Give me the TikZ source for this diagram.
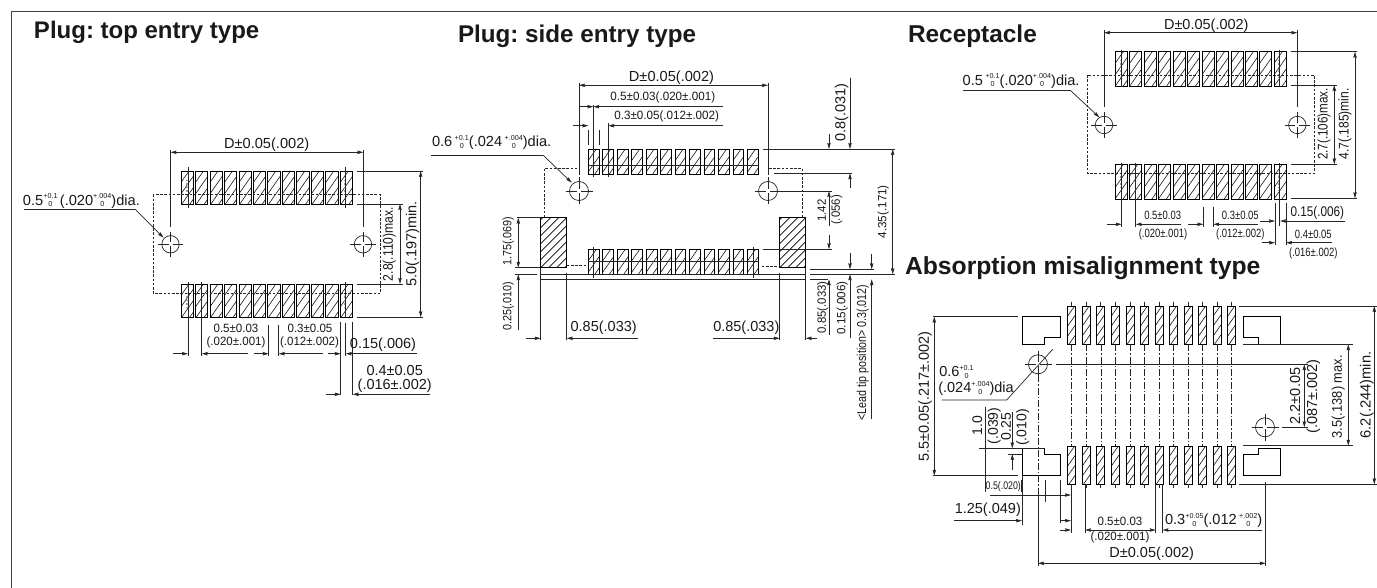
\documentclass[tikz,border=0pt]{standalone}
\usepackage{fontspec}
\setmainfont{Liberation Sans}
\usetikzlibrary{arrows.meta}
\frenchspacing
\newcount\lblc
\newsavebox\tolbox
\newcommand\tolf{\fontsize{7.2}{7.2}\selectfont}
\newcommand\tol[2]{\sbox\tolbox{\tolf#1}\makebox[\wd\tolbox][l]{\rlap{\raisebox{.42em}{\usebox\tolbox}}\makebox[\wd\tolbox][c]{\raisebox{-.12em}{\tolf#2}}}}
% \lbl[options]{x}{y}{size}{xscale}{text}
\newcommand\lbl[6][]{\global\advance\lblc by 1 \node[txt,#1] (t\the\lblc) at (#2,#3) {\fontsize{#4}{#4}\selectfont\scalebox{#5}[1]{#6}};}
\newcommand\rlbl[5]{\lbl[rotate=90]{#1}{#2}{#3}{#4}{#5}}
\newcommand\llbl[5]{\lbl[anchor=west]{#1}{#2}{#3}{#4}{#5}}
\newcommand\ttl[4]{\global\advance\lblc by 1 \node[txt,anchor=west] (t\the\lblc) at (#1,#2) {\fontsize{#3}{#3}\selectfont\bfseries #4};}
\newcommand\pads[6]{%
 \foreach \i in {0,...,11}{
  \pgfmathsetmacro\xa{#1+\i*#5}\pgfmathsetmacro\xb{\xa+#4}
  \begin{scope}
   \clip (\xa,#2) rectangle (\xb,#3);
   \pgfmathsetmacro\hh{#3-#2}
   \foreach \k in {0,...,14}{
     \pgfmathsetmacro\xs{\xa-\hh*0.7+\k*#6}
     \draw[hatch] (\xs,#3) -- ++(\hh*0.7,-\hh);
   }
  \end{scope}
  \draw[pad] (\xa,#2) rectangle (\xb,#3);
 }}
\newcommand\block[4]{%
 \begin{scope}
  \clip (#1,#3) rectangle (#2,#4);
  \foreach \k in {-7,...,5}{
   \draw[hatch,line width=.7pt,draw=black] (#1+\k*8,#4) -- ++(50,-50);
  }
 \end{scope}
 \draw[pad,line width=1.3pt] (#1,#3) rectangle (#2,#4);}
\newcommand\hole[3]{%
 \draw[thin1] (#1,#2) circle (#3);
 \draw[thin1] (#1-#3-4,#2) -- (#1-2,#2) (#1+2,#2) -- (#1+#3+4,#2);
 \draw[thin1] (#1,#2-#3-4) -- (#1,#2-2) (#1,#2+2) -- (#1,#2+#3+4);}
\tikzset{
 tip/.tip={Stealth[length=6pt,width=3.4pt,inset=.8pt]},
 txt/.style={inner sep=0pt,outer sep=0pt,text=black!90},
 thin1/.style={line width=.7pt,draw=black!85},
 dim/.style={line width=.7pt,draw=black!85,-tip},
 dimb/.style={line width=.7pt,draw=black!85,tip-tip},
 hatch/.style={line width=.6pt,draw=black!90},
 pad/.style={line width=.8pt,draw=black},
 dash1/.style={line width=.7pt,draw=black!85,dash pattern=on 2.6pt off 1.6pt},
 cline/.style={line width=.6pt,draw=black!85,dash pattern=on 7pt off 2pt on 1.5pt off 2pt},
 shapeb/.style={line width=.8pt,draw=black},
 stip/.style={line width=2pt,draw=black!40,dash pattern=on 1.5pt off 2pt},
}
\begin{document}
\begin{tikzpicture}[x=1pt,y=-1pt]
\useasboundingbox (0,0) rectangle (1377,588);
\fill[white] (0,0) rectangle (1377,588);
% frame
\draw[line width=.9pt,draw=black!75] (11.6,588) -- (11.6,11) -- (1377,11);
% titles
\ttl{34}{32}{24}{Plug: top entry type}
\ttl{458}{36}{24.2}{Plug: side entry type}
\ttl{908}{36}{24.4}{Receptacle}
\ttl{905}{268}{24.7}{Absorption misalignment type}

%%%%%%%% TOP ENTRY
\pads{181}{171}{204.7}{12.3}{14.48}{8}
\pads{181}{284}{317.3}{12.3}{14.48}{8}
\draw[stip] (187,180) -- (187,196) (345,180) -- (345,196) (187,293) -- (187,309) (345,293) -- (345,309);
\draw[dash1] (153.3,194.7) rectangle (380.3,293.7);
\hole{170.5}{244.3}{8.7}
\hole{363}{244.3}{8.7}
\draw[thin1] (170.5,150) -- (170.5,227) (363.3,150) -- (363.3,227);
\draw[dimb] (170.5,152.3) -- (363.3,152.3);
\lbl{266.7}{145}{14.6}{1}{D±0.05(.002)}
\draw[thin1] (188,166.7) -- (188,208) (345.7,166.7) -- (345.7,208);
\draw[thin1] (188,282.3) -- (188,355.7) (201.7,282.3) -- (201.7,355.7) (345.7,323) -- (345.7,355.7) (345.7,282.3) -- (345.7,317);
\draw[thin1] (340.7,321.7) -- (340.7,395) (352.7,321.7) -- (352.7,395);
\draw[thin1] (268.7,325) -- (268.7,355.7) (278.7,325) -- (278.7,355.7);
\draw[thin1] (357,171) -- (422.7,171) (357,204) -- (403,204) (357,284) -- (403,284) (357,317.3) -- (422.7,317.3);
\draw[dimb] (400,204) -- (400,284);
\draw[dimb] (420.7,171) -- (420.7,317.3);
\rlbl{389.3}{244}{14}{.87}{2.8(.110)max.}
\rlbl{412.7}{244}{14.5}{1}{5.0(.197)min.}
\draw[dim] (173,353.7) -- (188,353.7);
\draw[dim] (248,353.7) -- (201.7,353.7);
\draw[dim] (254,353.7) -- (268.7,353.7);
\draw[dim] (322.7,353.7) -- (278.7,353.7);
\draw[dim] (328,353.7) -- (340.7,353.7);
\draw[dim] (417,353.7) -- (345.7,353.7);
\draw[dim] (326,394.3) -- (340.7,394.3);
\draw[dim] (430,394.3) -- (352.7,394.3);
\lbl{236}{328}{12}{.96}{0.5±0.03}
\lbl{236}{342}{12}{.96}{(.020±.001)}
\lbl{310}{328}{12}{.96}{0.3±0.05}
\lbl{309.5}{342}{12}{.96}{(.012±.002)}
\lbl{383}{344.3}{14.5}{1}{0.15(.006)}
\lbl{394.7}{371}{14.5}{1}{0.4±0.05}
\lbl{394.7}{385.3}{14.5}{1}{(.016±.002)}
\llbl{23}{201}{14.6}{1}{0.5\tol{+0.1}{0}\,(.020\tol{+.004}{0})dia.}
\draw[thin1] (24,209) -- (135,209);
\draw[dim] (135,209) -- (163.5,237.7);

%%%%%%%% SIDE ENTRY
\pads{588.3}{149}{174.3}{10.7}{14.48}{8}
\pads{588.3}{249.3}{274.3}{10.7}{14.48}{8}
\draw[dash1] (544.3,217.7) -- (544.3,168.3) -- (578,168.3);
\draw[dash1] (769,168.3) -- (802.3,168.3) -- (802.3,217.7);
\draw[dash1] (566.7,265.7) -- (585.7,265.7);
\draw[dash1] (761.7,266.7) -- (779.7,266.7);
\draw[thin1] (588,165.7) -- (759,165.7) (588,261) -- (759,261);
\block{540.7}{566.7}{217.7}{267.7}
\block{779.7}{805.7}{217.7}{267.7}
\hole{579}{191}{9.5}
\hole{768}{191}{9.5}
\draw[thin1] (579,83) -- (579,175) (768,83) -- (768,175);
\draw[dimb] (579,85.3) -- (768,85.3);
\lbl{671.5}{78}{14.6}{1}{D±0.05(.002)}
\draw[thin1] (588.3,130) -- (588.3,145) (599,130) -- (599,145) (593.3,105) -- (593.3,176.7) (608.3,123) -- (608.3,176.7);
\draw[thin1] (593.3,246.7) -- (593.3,278) (753.3,246.7) -- (753.3,278);
\draw[dim] (579,106.7) -- (593.3,106.7);
\draw[dim] (722.7,106.7) -- (593.3,106.7);
\draw[dim] (573.3,125.7) -- (588.3,125.7);
\draw[dim] (722.7,125.7) -- (608.3,125.7);
\lbl{662.8}{97.3}{12}{.97}{0.5±0.03(.020±.001)}
\lbl{666.7}{116.3}{12}{.97}{0.3±0.05(.012±.002)}
\llbl{432}{142.3}{14.6}{1}{0.6\,\tol{+0.1}{0}(.024\,\tol{+.004}{0})dia.}
\draw[thin1] (431,155.3) -- (543.3,155.3);
\draw[dim] (543.3,155.3) -- (571.7,182.7);
\draw[thin1] (763,149) -- (895,149) (774,173.3) -- (852.3,173.3) (778,191) -- (831.7,191) (762.7,249.3) -- (831.7,249.3);
\draw[thin1] (810,274.3) -- (895,274.3) (810,269.3) -- (874,269.3) (810,279.3) -- (828,279.3);
\draw[dim] (829,134.3) -- (829,149);
\draw[dim] (829,226) -- (829,191);
\draw[dim] (829,235) -- (829,249.3);
\draw[dim] (829,335) -- (829,279.3);
\draw[dim] (850,77.7) -- (850,149);
\draw[dim] (850,188) -- (850,173.3);
\draw[dim] (850,253) -- (850,269.3);
\draw[dim] (850,338) -- (850,274.3);
\draw[dim] (871.7,254) -- (871.7,269.3);
\draw[dim] (871.7,419) -- (871.7,279.3);
\draw[dimb] (892.7,149) -- (892.7,274.3);
\rlbl{841.7}{112.5}{14.5}{1}{0.8(.031)}
\rlbl{821.7}{210.7}{12}{.95}{1.42}
\rlbl{836.7}{210}{12}{.95}{(.056)}
\rlbl{822.7}{307.5}{12}{.95}{0.85(.033)}
\rlbl{842.3}{308}{12}{.97}{0.15(.006)}
\rlbl{862.7}{352.5}{13}{.82}{<Lead tip position> 0.3(.012)}
\rlbl{883.3}{211.7}{12}{.97}{4.35(.171)}
\draw[thin1] (516.7,217.7) -- (540.7,217.7) (515,267.7) -- (540,267.7) (515,274.3) -- (536.7,274.3);
\draw[dimb] (518.3,217.7) -- (518.3,267.7);
\draw[dim] (518.3,330) -- (518.3,274.3);
\rlbl{508.3}{241.3}{12}{.9}{1.75(.069)}
\rlbl{508.3}{306.3}{12}{.9}{0.25(.010)}
\draw[thin1] (540.7,274.3) -- (805.7,274.3) (540.7,279.3) -- (805.7,279.3);
\draw[thin1] (540.7,267.7) -- (540.7,340) (566.7,272.7) -- (566.7,340) (779.7,272.7) -- (779.7,340) (805.7,267.7) -- (805.7,340);
\draw[dim] (526,338.3) -- (540.7,338.3);
\draw[dim] (637.7,338.3) -- (566.7,338.3);
\draw[dim] (713.3,338.3) -- (779.7,338.3);
\draw[dim] (816.7,338.3) -- (805.7,338.3);
\lbl{603.7}{327.3}{14.5}{1}{0.85(.033)}
\lbl{746.3}{327.3}{14.5}{1}{0.85(.033)}

%%%%%%%% RECEPTACLE
\pads{1115.3}{51.7}{86.7}{12}{14.45}{8}
\pads{1115.3}{164.3}{199}{12}{14.45}{8}
\draw[stip] (1121,60) -- (1121,78) (1279,60) -- (1279,78) (1121,173) -- (1121,191) (1279,173) -- (1279,191);
\draw[dash1] (1087.7,75.3) rectangle (1314.3,173.7);
\hole{1104}{125}{8.7}
\hole{1297.3}{125}{8.7}
\draw[thin1] (1104,30) -- (1104,106.7) (1297.3,30) -- (1297.3,106.7);
\draw[dimb] (1104,32.7) -- (1297.3,32.7);
\lbl{1206.3}{26}{14.5}{1}{D±0.05(.002)}
\draw[thin1] (1290.7,51.7) -- (1357.3,51.7) (1290.7,85) -- (1336.7,85) (1291,164.3) -- (1336.7,164.3) (1291,198.3) -- (1357.3,198.3);
\draw[dimb] (1334.3,85) -- (1334.3,164.3);
\draw[dimb] (1355,51.7) -- (1355,198.3);
\rlbl{1324}{124}{14}{.83}{2.7(.106)max.}
\rlbl{1345}{124}{14}{.86}{4.7(.185)min.}
\llbl{962.7}{81}{14.6}{1}{0.5\,\tol{+0.1}{0}(.020\tol{+.004}{0})dia.}
\draw[thin1] (963,90.7) -- (1070.7,90.7);
\draw[dim] (1070.7,90.7) -- (1099.3,117.3);
\draw[thin1] (1121.7,50) -- (1121.7,87.3) (1121.7,163) -- (1121.7,226.7) (1135.7,163) -- (1135.7,226.7) (1279.7,50) -- (1279.7,87.3) (1279.7,163) -- (1279.7,226);
\draw[thin1] (1275,203) -- (1275,245) (1286,203) -- (1286,245) (1203.3,206.7) -- (1203.3,226.7) (1213.3,206.7) -- (1213.3,226.7);
\draw[dim] (1106.7,224.3) -- (1121.7,224.3);
\draw[dim] (1181,224.3) -- (1135.7,224.3);
\draw[dim] (1188,224.3) -- (1203.3,224.3);
\draw[dim] (1258.3,224.3) -- (1213.3,224.3);
\draw[dim] (1260,221) -- (1275,221);
\draw[dim] (1345,221) -- (1280,221);
\draw[dim] (1261.7,242.7) -- (1275,242.7);
\draw[dim] (1332,242.7) -- (1286,242.7);
\lbl{1162.7}{215}{12}{.79}{0.5±0.03}
\lbl{1163}{234}{12}{.79}{(.020±.001)}
\lbl{1240.3}{215}{12}{.79}{0.3±0.05}
\lbl{1240.3}{234}{12}{.79}{(.012±.002)}
\lbl{1317.3}{213.3}{14}{.84}{0.15(.006)}
\lbl{1313.3}{234.3}{12}{.79}{0.4±0.05}
\lbl{1313.3}{253.3}{12}{.79}{(.016±.002)}

%%%%%%%% ABSORPTION
\pads{1067.7}{306}{344.3}{8}{14.55}{7}
\pads{1067.7}{446}{484.3}{8}{14.55}{7}
\foreach \i in {0,...,11}{
  \pgfmathsetmacro\xc{1071.7+\i*14.55}
  \draw[thin1] (\xc,301.7) -- (\xc,306);
  \draw[cline] (\xc,344.3) -- (\xc,446);
  \draw[thin1] (\xc,484.3) -- (\xc,488);
}
\draw[shapeb] (1022,316.7) -- (1060.3,316.7) -- (1060.3,337.3) -- (1044.3,337.3) -- (1044.3,344) -- (1022,344) -- cycle;
\draw[shapeb] (1022,448.3) -- (1044.3,448.3) -- (1044.3,454) -- (1060.3,454) -- (1060.3,475.7) -- (1022,475.7) -- cycle;
\draw[shapeb] (1243.3,316.7) -- (1280.7,316.7) -- (1280.7,344) -- (1258.3,344) -- (1258.3,337.3) -- (1243.3,337.3) -- cycle;
\draw[shapeb] (1243.3,454) -- (1258.3,454) -- (1258.3,448.3) -- (1280.7,448.3) -- (1280.7,475.7) -- (1243.3,475.7) -- cycle;
\hole{1038}{364.3}{9.5}
\hole{1265}{427.3}{9.5}
\draw[thin1] (1052.7,349.3) -- (1006.7,400) -- (941.7,400);
\draw[cline] (1038,375) -- (1038,490);
\draw[thin1] (1038,490) -- (1038,566);
\draw[thin1] (1055.7,364.3) -- (1308,364.3) (1282.3,427.3) -- (1308,427.3);
\draw[thin1] (1239.3,306) -- (1376.7,306) (1243,344.3) -- (1353.3,344.3) (1243,445.7) -- (1353.3,445.7) (1239.3,484.3) -- (1376.7,484.3);
\draw[dimb] (1304.3,364.3) -- (1304.3,427.3);
\draw[dimb] (1348.3,344.3) -- (1348.3,445.7);
\draw[dimb] (1374.3,306) -- (1374.3,484.3);
\rlbl{1295}{396}{14.5}{1}{2.2±0.05}
\rlbl{1313.3}{396.7}{14.5}{1}{(.087±.002)}
\rlbl{1338.3}{396.7}{14}{.92}{3.5(.138) max.}
\rlbl{1366.7}{395}{14.7}{1}{6.2(.244)min.}
\draw[thin1] (932.7,316.7) -- (1018.3,316.7) (932.7,475.7) -- (1018.3,475.7);
\draw[dimb] (934.3,316.7) -- (934.3,475.7);
\rlbl{925}{396.7}{14.5}{1}{5.5±0.05(.217±.002)}
\llbl{939.3}{372.3}{14.5}{1}{0.6\tol{+0.1}{0}}
\llbl{938.3}{388.3}{14.5}{1}{(.024\tol{+.004}{0})dia}
\rlbl{977.3}{425.8}{14}{1}{1.0}
\rlbl{994.3}{426}{14}{1}{(.039)}
\rlbl{1006}{426.7}{14}{1}{0.25}
\rlbl{1022.7}{427.5}{14}{1}{(.010)}
\draw[thin1] (979,448.3) -- (1044,448.3) (1007.7,454) -- (1022,454);
\draw[thin1] (985,406.7) -- (985,491.7) (1021,480) -- (1021,491.7);
\draw[dim] (1012.3,411.7) -- (1012.3,448.3);
\draw[dim] (1012.3,470) -- (1012.3,454);
\lbl{1003.3}{486.7}{11}{.8}{0.5(.020)}
\draw[thin1] (990,495) -- (1045,495);
\draw[dim] (1045,495) -- (1071,495);
\draw[thin1] (1045,480) -- (1045,501.7) (1060.3,480) -- (1060.3,523.3) (1022,475.7) -- (1022,525);
\lbl{987.8}{510}{14.5}{1}{1.25(.049)}
\draw[dim] (954.3,520.7) -- (1022,520.7);
\draw[dim] (1060.3,520.7) -- (1071,520.7);
\draw[thin1] (1071,484) -- (1071,533) (1085,484) -- (1085,533) (1155.7,484) -- (1155.7,533) (1162.5,484) -- (1162.5,533);
\draw[dim] (1060,530) -- (1071,530);
\draw[dim] (1148.3,530) -- (1085,530);
\draw[dim] (1146,530) -- (1155.7,530);
\draw[dim] (1261.7,530) -- (1162.5,530);
\lbl{1120}{521.7}{12}{.96}{0.5±0.03}
\lbl{1120}{537.3}{12}{.96}{(.020±.001)}
\llbl{1165}{520.7}{14.6}{1}{0.3\tol{+0.05}{0}(.012\,\tol{+.002}{0})}
\draw[thin1] (1265.7,481.7) -- (1265.7,566);
\draw[dimb] (1038,563.3) -- (1265.7,563.3);
\lbl{1151.7}{554}{14.5}{1}{D±0.05(.002)}
\end{tikzpicture}
\end{document}
